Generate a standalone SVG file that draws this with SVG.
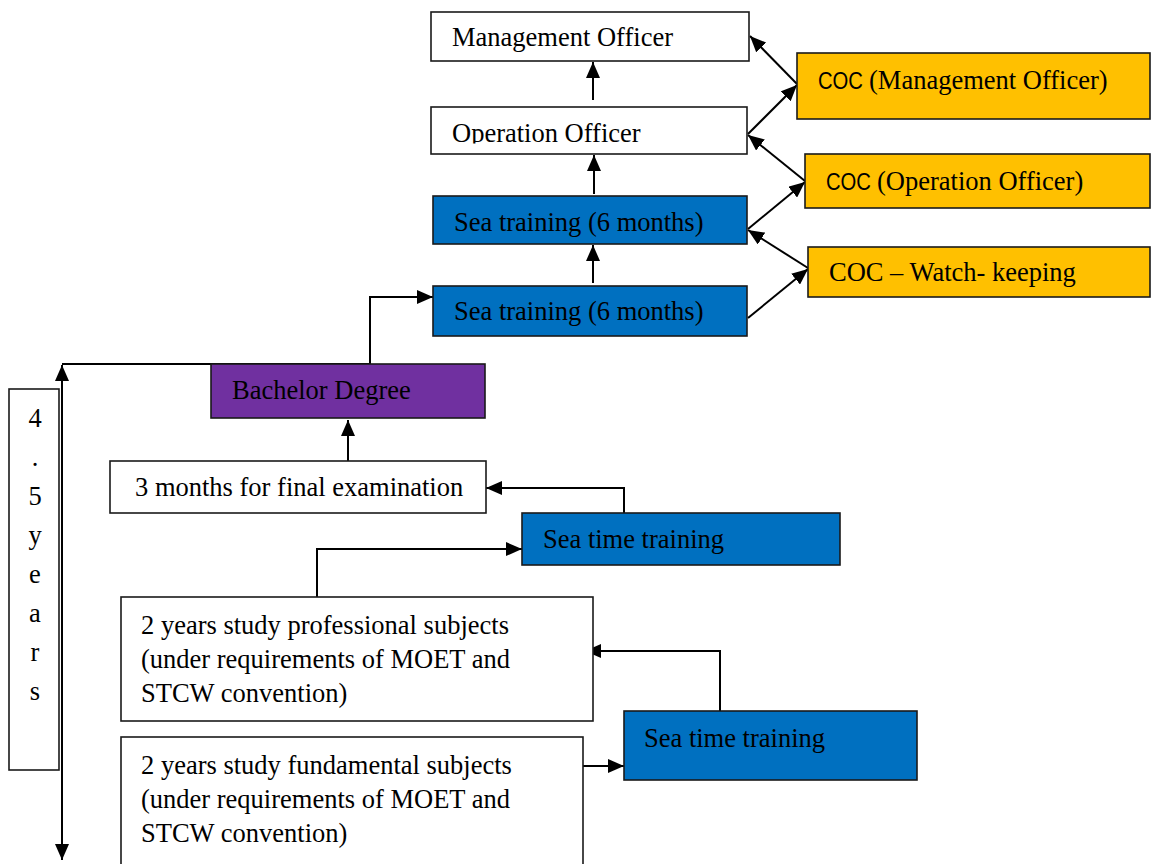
<svg xmlns="http://www.w3.org/2000/svg" width="1151" height="864" viewBox="0 0 1151 864">
  <style>
    .box { stroke: #1a1a1a; stroke-width: 1.6; }
    .plain { fill: #ffffff; }
    .blue { fill: #0070C0; }
    .gold { fill: #FFC000; }
    .purple { fill: #7030A0; }
    .t { font-family: "Liberation Serif", "Times New Roman", serif; font-size: 26.5px; fill: #000; }
    .sans { font-family: "Liberation Sans", Arial, sans-serif; font-size: 24px; fill: #000; }
    .conn { fill: none; stroke: #000; stroke-width: 2; }
  </style>
  <defs>
    <marker id="arrow" markerUnits="userSpaceOnUse" markerWidth="16" markerHeight="14" refX="16" refY="7" orient="auto-start-reverse">
      <path d="M0,0 L16,7 L0,14 z" fill="#000"/>
    </marker>
    <clipPath id="clipOperation">
      <rect x="431" y="107" width="316" height="36.5"/>
    </clipPath>
  </defs>
  <rect width="1151" height="864" fill="#ffffff"/>

  <!-- connectors -->
  <g id="connectors">
    <path class="conn" d="M593,100 L593,62" marker-end="url(#arrow)"/>
    <path class="conn" d="M594,194 L594,155" marker-end="url(#arrow)"/>
    <path class="conn" d="M593,283 L593,245" marker-end="url(#arrow)"/>
    <path class="conn" d="M797,84 L750,36" marker-end="url(#arrow)"/>
    <path class="conn" d="M748,134 L797,85" marker-end="url(#arrow)"/>
    <path class="conn" d="M805,181 L748,135" marker-end="url(#arrow)"/>
    <path class="conn" d="M748,229 L805,182" marker-end="url(#arrow)"/>
    <path class="conn" d="M808,268 L748,230" marker-end="url(#arrow)"/>
    <path class="conn" d="M748,318 L808,269" marker-end="url(#arrow)"/>
    <path class="conn" d="M370,364 L370,297 L433,297" marker-end="url(#arrow)"/>
    <path class="conn" d="M370,364 L62,364"/>
    <path class="conn" d="M62,365 L62,860" marker-start="url(#arrow)" marker-end="url(#arrow)"/>
    <path class="conn" d="M348,461 L348,420" marker-end="url(#arrow)"/>
    <path class="conn" d="M624,513 L624,488 L486,488" marker-end="url(#arrow)"/>
    <path class="conn" d="M317,597 L317,549 L522,549" marker-end="url(#arrow)"/>
    <path class="conn" d="M720,711 L720,651 L585,651" marker-end="url(#arrow)"/>
    <path class="conn" d="M583,766 L624,766" marker-end="url(#arrow)"/>
  </g>

  <g id="management-officer">
    <rect class="box plain" x="431" y="12" width="318" height="49"/>
    <text class="t" x="452" y="46">Management Officer</text>
  </g>

  <g id="operation-officer">
    <rect class="box plain" x="431" y="107" width="316" height="47"/>
    <text class="t" x="452" y="142" clip-path="url(#clipOperation)">Operation Officer</text>
  </g>

  <g id="sea-training-upper">
    <rect class="box blue" x="433" y="196" width="314" height="48"/>
    <text class="t" x="454" y="231">Sea training (6 months)</text>
  </g>

  <g id="sea-training-lower">
    <rect class="box blue" x="433" y="286" width="314" height="50"/>
    <text class="t" x="454" y="320">Sea training (6 months)</text>
  </g>

  <g id="coc-management">
    <rect class="box gold" x="797" y="53" width="353" height="66"/>
    <text class="sans" x="818" y="89" textLength="45" lengthAdjust="spacingAndGlyphs">COC</text>
    <text class="t" x="869" y="89">(Management Officer)</text>
  </g>

  <g id="coc-operation">
    <rect class="box gold" x="805" y="154" width="345" height="54"/>
    <text class="sans" x="826" y="190" textLength="45" lengthAdjust="spacingAndGlyphs">COC</text>
    <text class="t" x="877" y="190">(Operation Officer)</text>
  </g>

  <g id="coc-watchkeeping">
    <rect class="box gold" x="808" y="247" width="342" height="50"/>
    <text class="t" x="829" y="281">COC – Watch- keeping</text>
  </g>

  <g id="bachelor-degree">
    <rect class="box purple" x="211" y="364" width="274" height="54"/>
    <text class="t" x="232" y="399">Bachelor Degree</text>
  </g>

  <g id="duration">
    <rect class="box plain" x="9" y="389" width="50" height="381"/>
    <g class="t" text-anchor="middle">
      <text x="35" y="427">4</text>
      <text x="35" y="466">.</text>
      <text x="35" y="505">5</text>
      <text x="35" y="544">y</text>
      <text x="35" y="583">e</text>
      <text x="35" y="622">a</text>
      <text x="35" y="661">r</text>
      <text x="35" y="700">s</text>
    </g>
  </g>

  <g id="final-examination">
    <rect class="box plain" x="110" y="461" width="376" height="52"/>
    <text class="t" x="135" y="496">3 months for final examination</text>
  </g>

  <g id="sea-time-upper">
    <rect class="box blue" x="522" y="513" width="318" height="52"/>
    <text class="t" x="543" y="548">Sea time training</text>
  </g>

  <g id="professional-subjects">
    <rect class="box plain" x="121" y="597" width="472" height="124"/>
    <text class="t" x="141" y="634">2 years study professional subjects</text>
    <text class="t" x="141" y="668">(under requirements of MOET and</text>
    <text class="t" x="141" y="702">STCW convention)</text>
  </g>

  <g id="sea-time-lower">
    <rect class="box blue" x="624" y="711" width="293" height="69"/>
    <text class="t" x="644" y="747">Sea time training</text>
  </g>

  <g id="fundamental-subjects">
    <rect class="box plain" x="121" y="737" width="462" height="140"/>
    <text class="t" x="141" y="774">2 years study fundamental subjects</text>
    <text class="t" x="141" y="808">(under requirements of MOET and</text>
    <text class="t" x="141" y="842">STCW convention)</text>
  </g>
</svg>
